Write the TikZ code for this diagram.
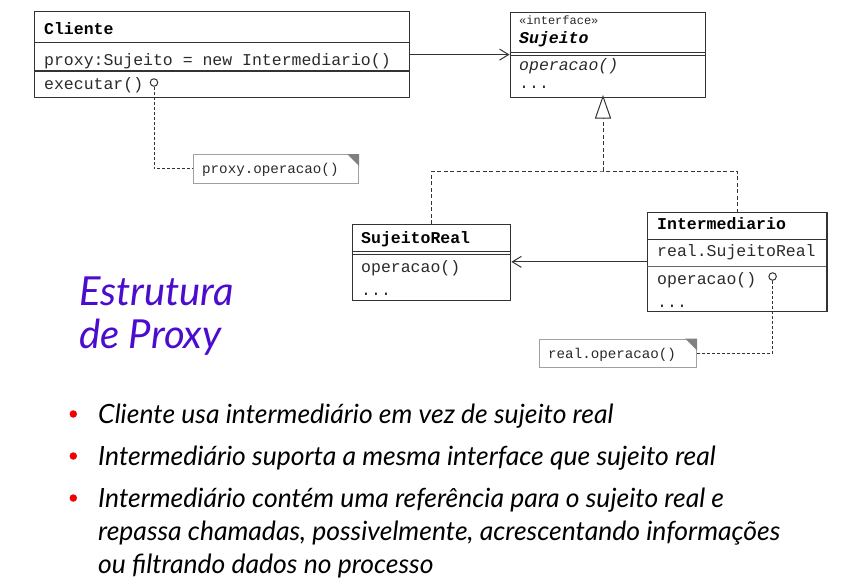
\documentclass[tikz,border=0pt]{standalone}
\usepackage{fontspec}
\setmainfont{Lato}
\setmonofont{Liberation Mono}
\usetikzlibrary{arrows.meta}
\definecolor{umlline}{HTML}{333333}
\definecolor{umltext}{HTML}{2A2A2A}
\definecolor{notegray}{HTML}{A0A0A0}
\definecolor{titlepurple}{RGB}{75,12,205}
\definecolor{bulletred}{RGB}{240,0,0}
\tikzset{
  umlbox/.style={draw=umlline, line width=1.2pt, anchor=north west, inner sep=0pt},
  notebox/.style={draw=notegray, line width=1.1pt, anchor=north west, inner sep=0pt, fill=white},
  divider/.style={draw=umlline, line width=1.1pt},
  umltxt/.style={anchor=base west, inner sep=0pt, text=umltext,
    font=\fontsize{16.5}{18}\selectfont\ttfamily},
  umlbold/.style={umltxt, font=\fontsize{16.5}{18}\selectfont\ttfamily\bfseries, text=black},
  notetxt/.style={anchor=base west, inner sep=0pt, text=umltext,
    font=\fontsize{14.2}{16}\selectfont\ttfamily},
  port/.style={circle, draw=umlline, line width=1pt, fill=white, inner sep=0pt, minimum size=7.5pt},
  notelink/.style={draw=umlline, line width=0.9pt, dash pattern=on 3pt off 2pt},
  realize/.style={draw=umlline, line width=0.9pt, dash pattern=on 4pt off 2.5pt},
  assoc/.style={draw=umlline, line width=1pt, -{Straight Barb[length=9pt,width=11pt,line width=1pt]}},
  bullettxt/.style={anchor=base west, inner sep=0pt, font=\fontsize{26.5}{30}\selectfont\itshape},
  bulletdot/.style={circle, fill=bulletred, inner sep=0pt, minimum size=7.5pt},
}
\begin{document}
\begin{tikzpicture}[x=1pt,y=-1pt]
\useasboundingbox (0,0) rectangle (860,587);

% ---- Cliente ----
\node[umlbox, minimum width=375pt, minimum height=86pt] (cliente) at (34,11) {};
\draw[divider] (34,42.5) -- (409,42.5);
\draw[divider] (34,71) -- (409,71);
\node[umlbold] (clienteName) at (44,34) {Cliente};
\node[umltxt] (clienteAttr) at (44,65) {proxy:Sujeito = new Intermediario()};
\node[umltxt] (clienteOp) at (44,89.5) {executar()};
\node[port] (portA) at (154,82.5) {};

% ---- Sujeito (interface) ----
\node[umlbox, minimum width=195pt, minimum height=85pt] (sujeito) at (509.5,11.5) {};
\draw[divider] (509.5,52.3) -- (704.5,52.3);
\draw[divider] (509.5,55.3) -- (704.5,55.3);
\node[anchor=base west, inner sep=0pt, text=umltext, font=\fontsize{12}{14}\selectfont\ttfamily] (stereo) at (519,24) {«interface»};
\node[umlbold, font=\fontsize{16.5}{18}\selectfont\ttfamily\bfseries\itshape] (sujeitoName) at (519,43) {Sujeito};
\node[umltxt, font=\fontsize{16.5}{18}\selectfont\ttfamily\itshape] (sujeitoOp) at (519,70.5) {operacao()};
\node[umltxt] (sujeitoDots) at (519,88.5) {...};

% ---- SujeitoReal ----
\node[umlbox, minimum width=158.5pt, minimum height=76pt] (sreal) at (351.7,224) {};
\draw[divider] (351.7,251.6) -- (510.2,251.6);
\draw[divider] (351.7,254.6) -- (510.2,254.6);
\node[umlbold] (srealName) at (361,243) {SujeitoReal};
\node[umltxt] (srealOp) at (361,272) {operacao()};
\node[umltxt] (srealDots) at (361,295) {...};

% ---- Intermediario ----
\node[umlbox, minimum width=179.5pt, minimum height=98.5pt] (inter) at (646.8,212) {};
\draw[divider] (646.8,239.6) -- (826.3,239.6);
\draw[divider, line width=1.5pt, draw=umlline!75] (646.8,266.6) -- (826.3,266.6);
\node[umlbold] (interName) at (657,229) {Intermediario};
\node[umltxt] (interAttr) at (657,256) {real.SujeitoReal};
\node[umltxt] (interOp) at (657,284) {operacao()};
\node[umltxt] (interDots) at (657,307.5) {...};
\node[port] (portB) at (772.6,276.5) {};

% ---- Notes ----
\node[notebox, minimum width=165pt, minimum height=28.5pt] (note1) at (193,154) {};
\fill[gray] ([xshift=-12pt]note1.north east) -- (note1.north east) -- ([yshift=-12pt]note1.north east) -- cycle;
\node[notetxt] (note1txt) at (202,173) {proxy.operacao()};

\node[notebox, minimum width=157.5pt, minimum height=28.5pt] (note2) at (538.5,338.5) {};
\fill[gray] ([xshift=-12pt]note2.north east) -- (note2.north east) -- ([yshift=-12pt]note2.north east) -- cycle;
\node[notetxt] (note2txt) at (548,358) {real.operacao()};

% ---- Connectors ----
\draw[assoc] (cliente.east) -- (cliente.east -| sujeito.west);
\draw[assoc] (inter.west) -- (inter.west -| sreal.east);

\coordinate (apexFoot) at (603,118);
\coordinate (join) at (603,171);
\draw[realize] (sreal.north) |- (join) -| (inter.north);
\draw[realize] (join) -- (apexFoot);
\draw[draw=umlline, line width=1pt, fill=white]
  (apexFoot) ++(-7.5,0) -- (603,96.5) -- ++(7.5,21.5) -- cycle;

\draw[notelink] (portA.south) |- (note1.west);
\draw[notelink] (portB.south) |- (note2.east);

% ---- Title ----
\node[anchor=base west, inner sep=0pt, text=titlepurple, font=\fontsize{40}{46}\selectfont\itshape] (title1) at (79,305) {Estrutura};
\node[anchor=base west, inner sep=0pt, text=titlepurple, font=\fontsize{40}{46}\selectfont\itshape] (title2) at (79,348) {de Proxy};

% ---- Bullets ----
\node[bulletdot] (b1) at (73.3,414) {};
\node[bulletdot] (b2) at (73.3,456) {};
\node[bulletdot] (b3) at (73.3,498) {};
\node[bullettxt] (t1) at (98,423) {Cliente usa intermediário em vez de sujeito real};
\node[bullettxt] (t2) at (98,465) {Intermediário suporta a mesma interface que sujeito real};
\node[bullettxt] (t3) at (98,507) {Intermediário contém uma referência para o sujeito real e};
\node[bullettxt] (t4) at (98,540) {repassa chamadas, possivelmente, acrescentando informações};
\node[bullettxt] (t5) at (98,573) {ou filtrando dados no processo};
\end{tikzpicture}
\end{document}
